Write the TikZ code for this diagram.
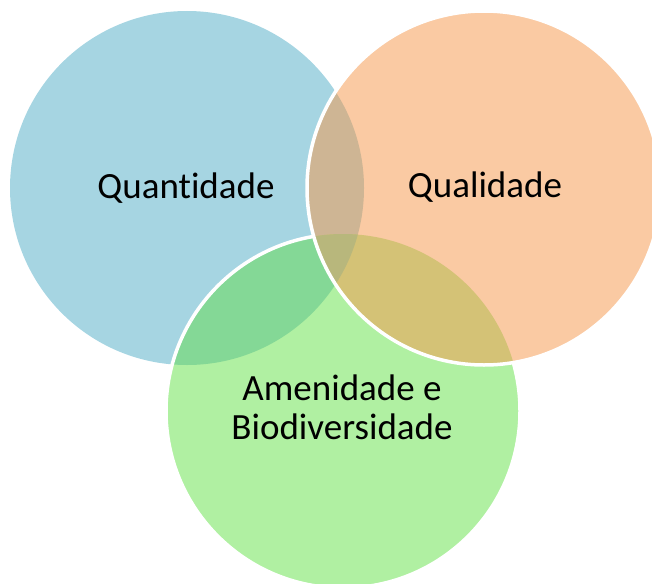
\documentclass[tikz,border=0pt]{standalone}
\usepackage{fontspec}
\setmainfont{Carlito}[Ligatures={NoCommon}]
\definecolor{cblue}{HTML}{A6D5E2}
\definecolor{corange}{HTML}{FACAA3}
\definecolor{cgreen}{HTML}{B0F0A2}
\definecolor{cbg}{HTML}{84D896}
\definecolor{cbo}{HTML}{CEB594}
\definecolor{cog}{HTML}{D4C276}
\definecolor{cbog}{HTML}{B8B77C}
\tikzset{
  lbl/.style={font=\fontsize{37}{39}\selectfont, text=black, anchor=base, align=center, inner sep=0pt},
  ring/.style={draw=white, line width=3.5pt}
}
\begin{document}
\begin{tikzpicture}[x=1pt,y=-1pt]
\useasboundingbox (0,0) rectangle (652,583);
\clip (0,0) rectangle (652,583);
\def\circB{(187,188) circle (177)}
\def\circO{(484,188) circle (177)}
\def\circG{(343,411) circle (177)}
% blue
\fill[cblue] \circB;
% green
\fill[cgreen] \circG;
\begin{scope}\clip \circB; \fill[cbg] \circG; \end{scope}
\draw[ring] \circG;
% orange
\fill[corange] \circO;
\begin{scope}\clip \circO; \fill[cbo] \circB; \end{scope}
\begin{scope}\clip \circO; \fill[cog] \circG; \end{scope}
\begin{scope}\clip \circO; \clip \circB; \fill[cbog] \circG; \end{scope}
\draw[ring] \circO;
% labels
\node[lbl] (quant) at (186,198) {Quantidade};
\node[lbl] (qual) at (485,197) {Qualidade};
\node[lbl] (amen) at (342,400) {Amenidade e};
\node[lbl] (bio) at (342,439) {Biodiversidade};
\end{tikzpicture}
\end{document}
